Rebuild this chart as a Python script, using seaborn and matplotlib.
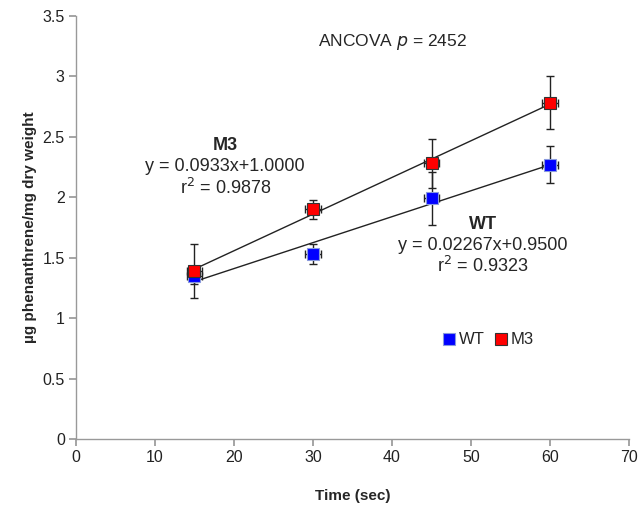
import numpy as np
import pandas as pd
import seaborn as sns
from matplotlib import pyplot as plt

sns.set_theme(style="white")
plt.rcParams['font.family'] = ['Liberation Sans', 'DejaVu Sans']

time = [15, 30, 45, 60]
wt = [1.35, 1.53, 1.99, 2.27]
wt_err = [0.07, 0.08, 0.22, 0.15]
m3 = [1.39, 1.90, 2.28, 2.78]
m3_err = [0.22, 0.08, 0.20, 0.22]
time_err = [1.0, 1.0, 1.0, 1.0]

df = pd.DataFrame({
    'Time': time * 2,
    'value': wt + m3,
    'err': wt_err + m3_err,
    'group': ['WT'] * 4 + ['M3'] * 4,
})
colors = {'WT': '#0000FF', 'M3': '#FF0000'}
edges = {'WT': '#8899dd', 'M3': '#333333'}

fig, ax = plt.subplots(figsize=(6.38, 5.11), dpi=100)
fig.subplots_adjust(left=0.119, right=0.986, bottom=0.141, top=0.969)

for g in ['WT', 'M3']:
    d = df[df['group'] == g]
    sns.regplot(data=d, x='Time', y='value', ax=ax, scatter=False, ci=None,
                truncate=True, line_kws={'color': '#222222', 'lw': 1})
for g in ['WT', 'M3']:
    d = df[df['group'] == g]
    ax.errorbar(d['Time'], d['value'], yerr=d['err'], xerr=time_err, fmt='none',
                ecolor='#222222', elinewidth=1, capsize=3, capthick=1, zorder=3)
    ax.plot(d['Time'], d['value'], 's', ms=9, color=colors[g], mec=edges[g],
            mew=0.8, zorder=4, label=g)

ax.set_xlim(0, 70)
ax.set_ylim(0, 3.5)
ax.set_xticks(np.arange(0, 71, 10))
ax.set_yticks(np.arange(0, 3.51, 0.5))
ax.set_yticklabels(['0', '0.5', '1', '1.5', '2', '2.5', '3', '3.5'])
ax.tick_params(axis='both', labelsize=11.5, length=5, color='#999999',
               labelcolor='#222222', direction='out', bottom=True, left=True, pad=3)
for s in ['top', 'right']:
    ax.spines[s].set_visible(False)
for s in ['left', 'bottom']:
    ax.spines[s].set_color('#999999')
    ax.spines[s].set_linewidth(1)

ax.set_xlabel('Time (sec)', fontsize=11, fontweight='bold', labelpad=17)
ax.set_ylabel('µg phenanthrene/mg dry weight', fontsize=11, fontweight='bold', labelpad=4)

ax.text(40, 3.28, 'ANCOVA $p$ = 2452', ha='center', va='center', fontsize=12.5)
ax.text(18.9, 2.43, 'M3', ha='center', va='center', fontsize=13, fontweight='bold')
ax.text(18.9, 2.25, 'y = 0.0933x+1.0000', ha='center', va='center', fontsize=13)
ax.text(18.9, 2.08, 'r$^2$ = 0.9878', ha='center', va='center', fontsize=13)
ax.text(51.5, 1.77, 'WT', ha='center', va='center', fontsize=13, fontweight='bold')
ax.text(51.5, 1.60, 'y = 0.02267x+0.9500', ha='center', va='center', fontsize=13)
ax.text(51.5, 1.43, 'r$^2$ = 0.9323', ha='center', va='center', fontsize=13)

ax.legend(loc='center', bbox_to_anchor=(0.745, 0.234), ncol=2, frameon=False,
          fontsize=12, handlelength=0.8, handletextpad=0.2, columnspacing=0.6,
          markerscale=0.9)

fig.savefig('out.png', dpi=100)
